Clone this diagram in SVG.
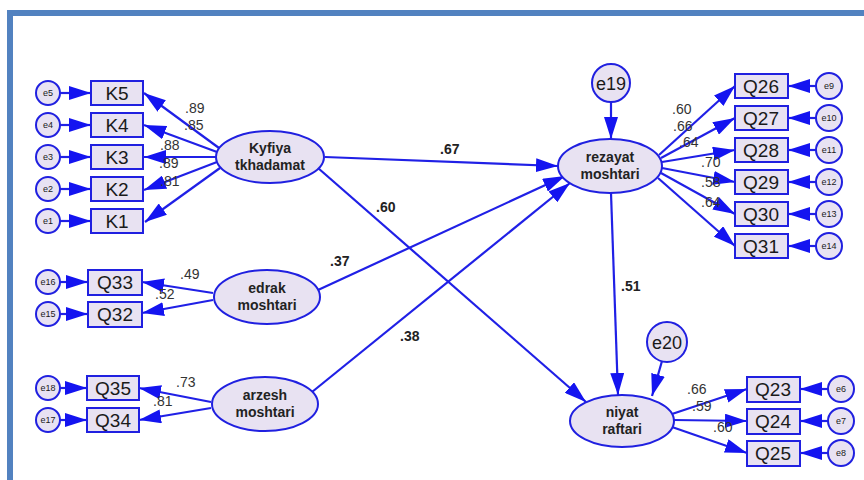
<svg xmlns="http://www.w3.org/2000/svg" width="864" height="480" viewBox="0 0 864 480">
<style>
.bx{fill:#e8e2f2;stroke:#2020e0;stroke-width:2}
.el{fill:#e8e2f2;stroke:#2020e0;stroke-width:2}
.c line{stroke:#2020e6;stroke-width:2.2;marker-end:url(#ah)}
.bt{font-family:"Liberation Sans",Arial,sans-serif;font-size:19px;fill:#1a1a1a;text-anchor:middle}
.et{font-family:"Liberation Sans",Arial,sans-serif;font-size:9px;fill:#1a1a1a;text-anchor:middle}
.et2{font-family:"Liberation Sans",Arial,sans-serif;font-size:18px;fill:#1a1a1a;text-anchor:middle}
.lt{font-family:"Liberation Sans",Arial,sans-serif;font-size:14px;font-weight:bold;fill:#222;text-anchor:middle}
.nl{font-family:"Liberation Sans",Arial,sans-serif;font-size:14px;fill:#333}
.sl{font-family:"Liberation Sans",Arial,sans-serif;font-size:14px;font-weight:bold;fill:#222}
</style>
<defs>
<marker id="ah" markerUnits="userSpaceOnUse" markerWidth="23" markerHeight="14" refX="22" refY="7" orient="auto">
<path d="M0,0 L22,7 L0,14 z" fill="#1414f0"/>
</marker>
</defs>
<rect width="864" height="480" fill="#ffffff"/>
<path d="M10,480 V13 H864" fill="none" stroke="#5282c0" stroke-width="6"/>

<g id="connectors" class="c">
<line x1="60" y1="93" x2="91" y2="93"/>
<line x1="60" y1="125" x2="91" y2="125"/>
<line x1="60" y1="157" x2="91" y2="157"/>
<line x1="60" y1="189" x2="91" y2="189"/>
<line x1="60" y1="221" x2="91" y2="221"/>
<line x1="60" y1="282" x2="88" y2="282"/>
<line x1="60" y1="314" x2="88" y2="314"/>
<line x1="60" y1="388" x2="87" y2="388"/>
<line x1="60" y1="420" x2="87" y2="420"/>
<line x1="219" y1="148" x2="144" y2="93"/>
<line x1="217" y1="152" x2="144" y2="125"/>
<line x1="216" y1="157" x2="144" y2="157"/>
<line x1="217" y1="162" x2="144" y2="190"/>
<line x1="220" y1="168" x2="145" y2="222"/>
<line x1="213" y1="293" x2="142" y2="282"/>
<line x1="213" y1="300" x2="142" y2="313"/>
<line x1="211" y1="402" x2="139" y2="388"/>
<line x1="211" y1="408" x2="139" y2="420"/>
<line x1="659" y1="155" x2="735" y2="86"/>
<line x1="661" y1="158" x2="735" y2="118"/>
<line x1="662" y1="162" x2="735" y2="150"/>
<line x1="662" y1="168" x2="735" y2="182"/>
<line x1="661" y1="173" x2="735" y2="214"/>
<line x1="658" y1="178" x2="735" y2="246"/>
<line x1="816" y1="86" x2="788" y2="86"/>
<line x1="816" y1="118" x2="788" y2="118"/>
<line x1="816" y1="150" x2="788" y2="150"/>
<line x1="816" y1="182" x2="788" y2="182"/>
<line x1="816" y1="214" x2="788" y2="214"/>
<line x1="816" y1="246" x2="788" y2="246"/>
<line x1="828" y1="389" x2="800" y2="389"/>
<line x1="828" y1="421" x2="800" y2="421"/>
<line x1="828" y1="453" x2="800" y2="453"/>
<line x1="672" y1="414" x2="747" y2="389"/>
<line x1="674" y1="420" x2="747" y2="421"/>
<line x1="672" y1="427" x2="747" y2="453"/>
<line x1="325" y1="157" x2="558" y2="166"/>
<line x1="318" y1="168" x2="586" y2="402"/>
<line x1="318" y1="290" x2="565" y2="176"/>
<line x1="312" y1="392" x2="570" y2="183"/>
<line x1="611" y1="193" x2="618" y2="395"/>
<line x1="611" y1="102" x2="611" y2="139"/>
<line x1="662" y1="361" x2="652" y2="396"/>
</g>

<g id="K5"><rect class="bx" x="91" y="81" width="52" height="24"/><text class="bt" x="117" y="100">K5</text></g>
<g id="K4"><rect class="bx" x="91" y="113" width="52" height="24"/><text class="bt" x="117" y="132">K4</text></g>
<g id="K3"><rect class="bx" x="91" y="145" width="52" height="24"/><text class="bt" x="117" y="164">K3</text></g>
<g id="K2"><rect class="bx" x="91" y="177" width="52" height="24"/><text class="bt" x="117" y="196">K2</text></g>
<g id="K1"><rect class="bx" x="91" y="209" width="52" height="24"/><text class="bt" x="117" y="228">K1</text></g>
<g id="Q33"><rect class="bx" x="88" y="270" width="54" height="25"/><text class="bt" x="115" y="289">Q33</text></g>
<g id="Q32"><rect class="bx" x="88" y="302" width="54" height="25"/><text class="bt" x="115" y="321">Q32</text></g>
<g id="Q35"><rect class="bx" x="87" y="376" width="52" height="24"/><text class="bt" x="113" y="395">Q35</text></g>
<g id="Q34"><rect class="bx" x="87" y="408" width="52" height="24"/><text class="bt" x="113" y="427">Q34</text></g>

<g id="e5"><circle class="el" cx="48" cy="93" r="12"/><text class="et" x="48" y="96">e5</text></g>
<g id="e4"><circle class="el" cx="48" cy="125" r="12"/><text class="et" x="48" y="128">e4</text></g>
<g id="e3"><circle class="el" cx="48" cy="157" r="12"/><text class="et" x="48" y="160">e3</text></g>
<g id="e2"><circle class="el" cx="48" cy="189" r="12"/><text class="et" x="48" y="192">e2</text></g>
<g id="e1"><circle class="el" cx="48" cy="221" r="12"/><text class="et" x="48" y="224">e1</text></g>
<g id="e16"><circle class="el" cx="48" cy="282" r="12"/><text class="et" x="48" y="285">e16</text></g>
<g id="e15"><circle class="el" cx="48" cy="314" r="12"/><text class="et" x="48" y="317">e15</text></g>
<g id="e18"><circle class="el" cx="48" cy="388" r="12"/><text class="et" x="48" y="391">e18</text></g>
<g id="e17"><circle class="el" cx="48" cy="420" r="12"/><text class="et" x="48" y="423">e17</text></g>

<g id="Kyfiya"><ellipse class="el" cx="270" cy="157" rx="54" ry="26"/><text class="lt" x="270" y="153">Kyfiya</text><text class="lt" x="270" y="170">tkhadamat</text></g>
<g id="edrak"><ellipse class="el" cx="267" cy="297" rx="53" ry="27"/><text class="lt" x="267" y="293">edrak</text><text class="lt" x="267" y="310">moshtari</text></g>
<g id="arzesh"><ellipse class="el" cx="265" cy="404" rx="53" ry="27"/><text class="lt" x="265" y="400">arzesh</text><text class="lt" x="265" y="417">moshtari</text></g>
<g id="rezayat"><ellipse class="el" cx="610" cy="166" rx="52" ry="27"/><text class="lt" x="610" y="162">rezayat</text><text class="lt" x="610" y="179">moshtari</text></g>
<g id="niyat"><ellipse class="el" cx="622" cy="421" rx="52" ry="26"/><text class="lt" x="622" y="417">niyat</text><text class="lt" x="622" y="434">raftari</text></g>

<g id="e19"><circle class="el" cx="611" cy="83" r="19"/><text class="et2" x="611" y="90">e19</text></g>
<g id="e20"><circle class="el" cx="667" cy="342" r="20"/><text class="et2" x="667" y="349">e20</text></g>

<g id="Q26"><rect class="bx" x="735" y="74" width="53" height="24"/><text class="bt" x="761" y="93">Q26</text></g>
<g id="Q27"><rect class="bx" x="735" y="106" width="53" height="24"/><text class="bt" x="761" y="125">Q27</text></g>
<g id="Q28"><rect class="bx" x="735" y="138" width="53" height="24"/><text class="bt" x="761" y="157">Q28</text></g>
<g id="Q29"><rect class="bx" x="735" y="170" width="53" height="24"/><text class="bt" x="761" y="189">Q29</text></g>
<g id="Q30"><rect class="bx" x="735" y="202" width="53" height="24"/><text class="bt" x="761" y="221">Q30</text></g>
<g id="Q31"><rect class="bx" x="735" y="234" width="53" height="24"/><text class="bt" x="761" y="253">Q31</text></g>
<g id="Q23"><rect class="bx" x="747" y="377" width="53" height="25"/><text class="bt" x="773" y="396">Q23</text></g>
<g id="Q24"><rect class="bx" x="747" y="409" width="53" height="25"/><text class="bt" x="773" y="428">Q24</text></g>
<g id="Q25"><rect class="bx" x="747" y="441" width="53" height="25"/><text class="bt" x="773" y="460">Q25</text></g>

<g id="e9"><circle class="el" cx="829" cy="86" r="13"/><text class="et" x="829" y="89">e9</text></g>
<g id="e10"><circle class="el" cx="829" cy="118" r="13"/><text class="et" x="829" y="121">e10</text></g>
<g id="e11"><circle class="el" cx="829" cy="150" r="13"/><text class="et" x="829" y="153">e11</text></g>
<g id="e12"><circle class="el" cx="829" cy="182" r="13"/><text class="et" x="829" y="185">e12</text></g>
<g id="e13"><circle class="el" cx="829" cy="214" r="13"/><text class="et" x="829" y="217">e13</text></g>
<g id="e14"><circle class="el" cx="829" cy="246" r="13"/><text class="et" x="829" y="249">e14</text></g>
<g id="e6"><circle class="el" cx="841" cy="389" r="13"/><text class="et" x="841" y="392">e6</text></g>
<g id="e7"><circle class="el" cx="841" cy="421" r="13"/><text class="et" x="841" y="424">e7</text></g>
<g id="e8"><circle class="el" cx="841" cy="453" r="13"/><text class="et" x="841" y="456">e8</text></g>

<g id="labels">
<text class="nl" x="185" y="113">.89</text>
<text class="nl" x="184" y="130">.85</text>
<text class="nl" x="160" y="150">.88</text>
<text class="nl" x="159" y="168">.89</text>
<text class="nl" x="160" y="186">.81</text>
<text class="nl" x="180" y="279">.49</text>
<text class="nl" x="155" y="299">.52</text>
<text class="nl" x="176" y="387">.73</text>
<text class="nl" x="153" y="406">.81</text>
<text class="nl" x="672" y="114">.60</text>
<text class="nl" x="673" y="131">.66</text>
<text class="nl" x="679" y="147">.64</text>
<text class="nl" x="701" y="167">.70</text>
<text class="nl" x="701" y="187">.58</text>
<text class="nl" x="701" y="207">.64</text>
<text class="nl" x="687" y="394">.66</text>
<text class="nl" x="692" y="411">.59</text>
<text class="nl" x="713" y="432">.60</text>
<text class="sl" x="440" y="154">.67</text>
<text class="sl" x="376" y="212">.60</text>
<text class="sl" x="330" y="266">.37</text>
<text class="sl" x="400" y="341">.38</text>
<text class="sl" x="621" y="291">.51</text>
</g>
</svg>
